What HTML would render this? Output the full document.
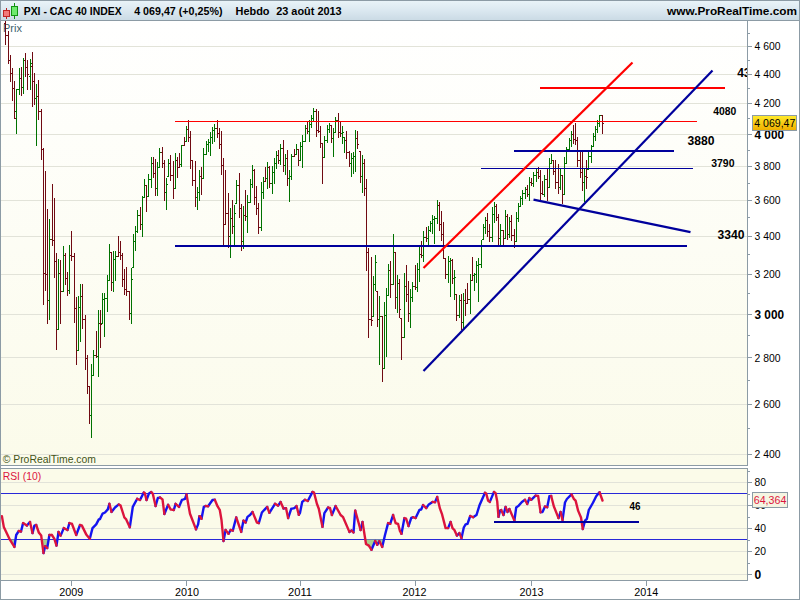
<!DOCTYPE html>
<html><head><meta charset="utf-8"><title>PXI - CAC 40 INDEX</title>
<style>html,body{margin:0;padding:0;background:#fff;overflow:hidden}svg{display:block}text{font-family:"Liberation Sans",sans-serif}</style>
</head><body>
<svg width="800" height="600" viewBox="0 0 800 600">
<defs>
<linearGradient id="hd" x1="0" y1="0" x2="0" y2="1"><stop offset="0" stop-color="#e9f3f8"/><stop offset="0.5" stop-color="#dbe8f0"/><stop offset="1" stop-color="#cbdbe5"/></linearGradient>
<linearGradient id="bg" x1="0" y1="0" x2="0" y2="1"><stop offset="0" stop-color="#ffffff"/><stop offset="1" stop-color="#fbfbea"/></linearGradient>
<linearGradient id="yl" x1="0" y1="0" x2="0" y2="1"><stop offset="0" stop-color="#ffe92a"/><stop offset="1" stop-color="#f0b000"/></linearGradient>
<clipPath id="cm"><rect x="1" y="21" width="746" height="444"/></clipPath>
<clipPath id="cr"><rect x="1" y="469" width="746" height="111"/></clipPath>
</defs>
<rect x="0" y="0" width="800" height="600" fill="#ffffff"/>
<rect x="1" y="1" width="798" height="19" fill="url(#hd)"/>
<rect x="1" y="21" width="746" height="444" fill="url(#bg)"/>
<rect x="1" y="469" width="746" height="111" fill="#fbfbe9"/>
<g shape-rendering="crispEdges">
<rect x="0" y="0" width="800" height="1" fill="#8c9ba5"/><rect x="0" y="599" width="800" height="1" fill="#8c9ba5"/><rect x="0" y="0" width="1" height="600" fill="#8c9ba5"/><rect x="799" y="0" width="1" height="600" fill="#8c9ba5"/>
<rect x="0" y="20" width="800" height="1" fill="#8c9ba5"/>
<rect x="1" y="454" width="746" height="1" fill="#e2e3d9"/>
<rect x="1" y="404" width="746" height="1" fill="#e2e3d9"/>
<rect x="1" y="357" width="746" height="1" fill="#e2e3d9"/>
<rect x="1" y="314" width="746" height="1" fill="#e2e3d9"/>
<rect x="1" y="274" width="746" height="1" fill="#e2e3d9"/>
<rect x="1" y="236" width="746" height="1" fill="#e2e3d9"/>
<rect x="1" y="200" width="746" height="1" fill="#e2e3d9"/>
<rect x="1" y="166" width="746" height="1" fill="#e2e3d9"/>
<rect x="1" y="134" width="746" height="1" fill="#e2e3d9"/>
<rect x="1" y="103" width="746" height="1" fill="#e2e3d9"/>
<rect x="1" y="74" width="746" height="1" fill="#e2e3d9"/>
<rect x="1" y="46" width="746" height="1" fill="#e2e3d9"/>
<rect x="1" y="574" width="746" height="1" fill="#e2e3d9"/>
<rect x="1" y="551" width="746" height="1" fill="#e2e3d9"/>
<rect x="1" y="528" width="746" height="1" fill="#e2e3d9"/>
<rect x="1" y="505" width="746" height="1" fill="#e2e3d9"/>
<rect x="1" y="482" width="746" height="1" fill="#e2e3d9"/>
<rect x="747" y="21" width="1" height="445" fill="#8c9ba5"/>
<rect x="1" y="465" width="747" height="1" fill="#8c9ba5"/>
<rect x="1" y="468" width="747" height="1" fill="#8c9ba5"/>
<rect x="747" y="468" width="1" height="113" fill="#8c9ba5"/>
<rect x="1" y="580" width="747" height="1" fill="#8c9ba5"/>
<rect x="747" y="454" width="5" height="1" fill="#8c9ba5"/>
<rect x="747" y="428" width="3" height="1" fill="#8c9ba5"/>
<rect x="747" y="404" width="5" height="1" fill="#8c9ba5"/>
<rect x="747" y="380" width="3" height="1" fill="#8c9ba5"/>
<rect x="747" y="357" width="5" height="1" fill="#8c9ba5"/>
<rect x="747" y="335" width="3" height="1" fill="#8c9ba5"/>
<rect x="747" y="314" width="5" height="1" fill="#8c9ba5"/>
<rect x="747" y="293" width="3" height="1" fill="#8c9ba5"/>
<rect x="747" y="274" width="5" height="1" fill="#8c9ba5"/>
<rect x="747" y="254" width="3" height="1" fill="#8c9ba5"/>
<rect x="747" y="236" width="5" height="1" fill="#8c9ba5"/>
<rect x="747" y="217" width="3" height="1" fill="#8c9ba5"/>
<rect x="747" y="200" width="5" height="1" fill="#8c9ba5"/>
<rect x="747" y="183" width="3" height="1" fill="#8c9ba5"/>
<rect x="747" y="166" width="5" height="1" fill="#8c9ba5"/>
<rect x="747" y="150" width="3" height="1" fill="#8c9ba5"/>
<rect x="747" y="134" width="5" height="1" fill="#8c9ba5"/>
<rect x="747" y="118" width="3" height="1" fill="#8c9ba5"/>
<rect x="747" y="103" width="5" height="1" fill="#8c9ba5"/>
<rect x="747" y="88" width="3" height="1" fill="#8c9ba5"/>
<rect x="747" y="74" width="5" height="1" fill="#8c9ba5"/>
<rect x="747" y="60" width="3" height="1" fill="#8c9ba5"/>
<rect x="747" y="46" width="5" height="1" fill="#8c9ba5"/>
<rect x="747" y="33" width="3" height="1" fill="#8c9ba5"/>
<rect x="747" y="574" width="5" height="1" fill="#8c9ba5"/>
<rect x="747" y="563" width="3" height="1" fill="#8c9ba5"/>
<rect x="747" y="551" width="5" height="1" fill="#8c9ba5"/>
<rect x="747" y="540" width="3" height="1" fill="#8c9ba5"/>
<rect x="747" y="528" width="5" height="1" fill="#8c9ba5"/>
<rect x="747" y="517" width="3" height="1" fill="#8c9ba5"/>
<rect x="747" y="505" width="5" height="1" fill="#8c9ba5"/>
<rect x="747" y="494" width="3" height="1" fill="#8c9ba5"/>
<rect x="747" y="482" width="5" height="1" fill="#8c9ba5"/>
<rect x="747" y="471" width="3" height="1" fill="#8c9ba5"/>
<rect x="71" y="581" width="1" height="5" fill="#8c9ba5"/>
<rect x="186" y="581" width="1" height="5" fill="#8c9ba5"/>
<rect x="300" y="581" width="1" height="5" fill="#8c9ba5"/>
<rect x="415" y="581" width="1" height="5" fill="#8c9ba5"/>
<rect x="531" y="581" width="1" height="5" fill="#8c9ba5"/>
<rect x="646" y="581" width="1" height="5" fill="#8c9ba5"/>
</g>
<g shape-rendering="crispEdges">
<rect x="1" y="493" width="746" height="1" fill="#2828d8"/>
<rect x="1" y="539" width="746" height="1" fill="#2828d8"/>
</g>
<text x="3" y="31.5" font-size="11" fill="#3c626c" text-anchor="start">Prix</text>
<g shape-rendering="crispEdges" clip-path="url(#cm)">
<rect x="5" y="21" width="1" height="24" fill="#700a12"/>
<rect x="4" y="23" width="1" height="1" fill="#700a12"/>
<rect x="6" y="35" width="1" height="1" fill="#700a12"/>
<rect x="8" y="31" width="1" height="33" fill="#700a12"/>
<rect x="7" y="35" width="1" height="1" fill="#700a12"/>
<rect x="9" y="60" width="1" height="1" fill="#700a12"/>
<rect x="10" y="55" width="1" height="27" fill="#700a12"/>
<rect x="9" y="60" width="1" height="1" fill="#700a12"/>
<rect x="11" y="73" width="1" height="1" fill="#700a12"/>
<rect x="12" y="68" width="1" height="33" fill="#700a12"/>
<rect x="11" y="73" width="1" height="1" fill="#700a12"/>
<rect x="13" y="88" width="1" height="1" fill="#700a12"/>
<rect x="14" y="81" width="1" height="38" fill="#700a12"/>
<rect x="13" y="88" width="1" height="1" fill="#700a12"/>
<rect x="15" y="118" width="1" height="1" fill="#700a12"/>
<rect x="16" y="89" width="1" height="45" fill="#007200"/>
<rect x="15" y="111" width="1" height="1" fill="#007200"/>
<rect x="17" y="89" width="1" height="1" fill="#007200"/>
<rect x="19" y="68" width="1" height="27" fill="#007200"/>
<rect x="18" y="89" width="1" height="1" fill="#007200"/>
<rect x="20" y="78" width="1" height="1" fill="#007200"/>
<rect x="21" y="67" width="1" height="29" fill="#700a12"/>
<rect x="20" y="78" width="1" height="1" fill="#700a12"/>
<rect x="22" y="87" width="1" height="1" fill="#700a12"/>
<rect x="23" y="58" width="1" height="36" fill="#007200"/>
<rect x="22" y="87" width="1" height="1" fill="#007200"/>
<rect x="24" y="60" width="1" height="1" fill="#007200"/>
<rect x="25" y="53" width="1" height="24" fill="#700a12"/>
<rect x="24" y="60" width="1" height="1" fill="#700a12"/>
<rect x="26" y="67" width="1" height="1" fill="#700a12"/>
<rect x="27" y="60" width="1" height="30" fill="#700a12"/>
<rect x="26" y="67" width="1" height="1" fill="#700a12"/>
<rect x="28" y="74" width="1" height="1" fill="#700a12"/>
<rect x="30" y="59" width="1" height="31" fill="#007200"/>
<rect x="29" y="76" width="1" height="1" fill="#007200"/>
<rect x="31" y="63" width="1" height="1" fill="#007200"/>
<rect x="32" y="52" width="1" height="55" fill="#700a12"/>
<rect x="31" y="66" width="1" height="1" fill="#700a12"/>
<rect x="33" y="81" width="1" height="1" fill="#700a12"/>
<rect x="34" y="73" width="1" height="32" fill="#700a12"/>
<rect x="33" y="81" width="1" height="1" fill="#700a12"/>
<rect x="35" y="98" width="1" height="1" fill="#700a12"/>
<rect x="36" y="84" width="1" height="62" fill="#007200"/>
<rect x="35" y="98" width="1" height="1" fill="#007200"/>
<rect x="37" y="96" width="1" height="1" fill="#007200"/>
<rect x="38" y="80" width="1" height="40" fill="#700a12"/>
<rect x="37" y="96" width="1" height="1" fill="#700a12"/>
<rect x="39" y="111" width="1" height="1" fill="#700a12"/>
<rect x="41" y="109" width="1" height="51" fill="#700a12"/>
<rect x="40" y="111" width="1" height="1" fill="#700a12"/>
<rect x="42" y="149" width="1" height="1" fill="#700a12"/>
<rect x="43" y="148" width="1" height="157" fill="#700a12"/>
<rect x="42" y="149" width="1" height="1" fill="#700a12"/>
<rect x="44" y="273" width="1" height="1" fill="#700a12"/>
<rect x="45" y="171" width="1" height="120" fill="#700a12"/>
<rect x="44" y="273" width="1" height="1" fill="#700a12"/>
<rect x="46" y="274" width="1" height="1" fill="#700a12"/>
<rect x="47" y="209" width="1" height="115" fill="#700a12"/>
<rect x="46" y="274" width="1" height="1" fill="#700a12"/>
<rect x="48" y="300" width="1" height="1" fill="#700a12"/>
<rect x="49" y="219" width="1" height="101" fill="#007200"/>
<rect x="48" y="300" width="1" height="1" fill="#007200"/>
<rect x="50" y="239" width="1" height="1" fill="#007200"/>
<rect x="52" y="184" width="1" height="62" fill="#700a12"/>
<rect x="51" y="239" width="1" height="1" fill="#700a12"/>
<rect x="53" y="240" width="1" height="1" fill="#700a12"/>
<rect x="54" y="198" width="1" height="80" fill="#700a12"/>
<rect x="53" y="240" width="1" height="1" fill="#700a12"/>
<rect x="55" y="261" width="1" height="1" fill="#700a12"/>
<rect x="56" y="253" width="1" height="97" fill="#700a12"/>
<rect x="55" y="261" width="1" height="1" fill="#700a12"/>
<rect x="57" y="329" width="1" height="1" fill="#700a12"/>
<rect x="58" y="259" width="1" height="71" fill="#007200"/>
<rect x="57" y="329" width="1" height="1" fill="#007200"/>
<rect x="59" y="273" width="1" height="1" fill="#007200"/>
<rect x="60" y="260" width="1" height="64" fill="#700a12"/>
<rect x="59" y="273" width="1" height="1" fill="#700a12"/>
<rect x="61" y="291" width="1" height="1" fill="#700a12"/>
<rect x="63" y="246" width="1" height="46" fill="#007200"/>
<rect x="62" y="291" width="1" height="1" fill="#007200"/>
<rect x="64" y="255" width="1" height="1" fill="#007200"/>
<rect x="65" y="253" width="1" height="32" fill="#700a12"/>
<rect x="64" y="255" width="1" height="1" fill="#700a12"/>
<rect x="66" y="278" width="1" height="1" fill="#700a12"/>
<rect x="67" y="272" width="1" height="24" fill="#700a12"/>
<rect x="66" y="278" width="1" height="1" fill="#700a12"/>
<rect x="68" y="290" width="1" height="1" fill="#700a12"/>
<rect x="69" y="245" width="1" height="49" fill="#007200"/>
<rect x="68" y="290" width="1" height="1" fill="#007200"/>
<rect x="70" y="255" width="1" height="1" fill="#007200"/>
<rect x="71" y="231" width="1" height="30" fill="#700a12"/>
<rect x="70" y="255" width="1" height="1" fill="#700a12"/>
<rect x="72" y="256" width="1" height="1" fill="#700a12"/>
<rect x="74" y="253" width="1" height="70" fill="#700a12"/>
<rect x="73" y="256" width="1" height="1" fill="#700a12"/>
<rect x="75" y="308" width="1" height="1" fill="#700a12"/>
<rect x="76" y="297" width="1" height="68" fill="#700a12"/>
<rect x="75" y="308" width="1" height="1" fill="#700a12"/>
<rect x="77" y="350" width="1" height="1" fill="#700a12"/>
<rect x="78" y="296" width="1" height="55" fill="#007200"/>
<rect x="77" y="350" width="1" height="1" fill="#007200"/>
<rect x="79" y="307" width="1" height="1" fill="#007200"/>
<rect x="80" y="284" width="1" height="58" fill="#007200"/>
<rect x="79" y="307" width="1" height="1" fill="#007200"/>
<rect x="81" y="296" width="1" height="1" fill="#007200"/>
<rect x="82" y="284" width="1" height="45" fill="#700a12"/>
<rect x="81" y="296" width="1" height="1" fill="#700a12"/>
<rect x="83" y="319" width="1" height="1" fill="#700a12"/>
<rect x="85" y="315" width="1" height="55" fill="#700a12"/>
<rect x="84" y="319" width="1" height="1" fill="#700a12"/>
<rect x="86" y="358" width="1" height="1" fill="#700a12"/>
<rect x="87" y="355" width="1" height="39" fill="#700a12"/>
<rect x="86" y="358" width="1" height="1" fill="#700a12"/>
<rect x="88" y="386" width="1" height="1" fill="#700a12"/>
<rect x="89" y="386" width="1" height="38" fill="#700a12"/>
<rect x="88" y="386" width="1" height="1" fill="#700a12"/>
<rect x="90" y="415" width="1" height="1" fill="#700a12"/>
<rect x="91" y="364" width="1" height="74" fill="#007200"/>
<rect x="90" y="415" width="1" height="1" fill="#007200"/>
<rect x="92" y="375" width="1" height="1" fill="#007200"/>
<rect x="93" y="350" width="1" height="26" fill="#007200"/>
<rect x="92" y="375" width="1" height="1" fill="#007200"/>
<rect x="94" y="355" width="1" height="1" fill="#007200"/>
<rect x="96" y="331" width="1" height="27" fill="#700a12"/>
<rect x="95" y="355" width="1" height="1" fill="#700a12"/>
<rect x="97" y="356" width="1" height="1" fill="#700a12"/>
<rect x="98" y="310" width="1" height="67" fill="#007200"/>
<rect x="97" y="356" width="1" height="1" fill="#007200"/>
<rect x="99" y="323" width="1" height="1" fill="#007200"/>
<rect x="100" y="310" width="1" height="38" fill="#700a12"/>
<rect x="99" y="323" width="1" height="1" fill="#700a12"/>
<rect x="101" y="324" width="1" height="1" fill="#700a12"/>
<rect x="102" y="293" width="1" height="31" fill="#007200"/>
<rect x="101" y="323" width="1" height="1" fill="#007200"/>
<rect x="103" y="299" width="1" height="1" fill="#007200"/>
<rect x="104" y="293" width="1" height="44" fill="#007200"/>
<rect x="103" y="299" width="1" height="1" fill="#007200"/>
<rect x="105" y="298" width="1" height="1" fill="#007200"/>
<rect x="107" y="275" width="1" height="37" fill="#007200"/>
<rect x="106" y="298" width="1" height="1" fill="#007200"/>
<rect x="108" y="280" width="1" height="1" fill="#007200"/>
<rect x="109" y="244" width="1" height="37" fill="#007200"/>
<rect x="108" y="280" width="1" height="1" fill="#007200"/>
<rect x="110" y="252" width="1" height="1" fill="#007200"/>
<rect x="111" y="252" width="1" height="39" fill="#700a12"/>
<rect x="110" y="252" width="1" height="1" fill="#700a12"/>
<rect x="112" y="282" width="1" height="1" fill="#700a12"/>
<rect x="113" y="251" width="1" height="41" fill="#007200"/>
<rect x="112" y="282" width="1" height="1" fill="#007200"/>
<rect x="114" y="259" width="1" height="1" fill="#007200"/>
<rect x="115" y="251" width="1" height="30" fill="#007200"/>
<rect x="114" y="259" width="1" height="1" fill="#007200"/>
<rect x="116" y="256" width="1" height="1" fill="#007200"/>
<rect x="118" y="236" width="1" height="21" fill="#700a12"/>
<rect x="117" y="256" width="1" height="1" fill="#700a12"/>
<rect x="119" y="252" width="1" height="1" fill="#700a12"/>
<rect x="120" y="241" width="1" height="19" fill="#700a12"/>
<rect x="119" y="252" width="1" height="1" fill="#700a12"/>
<rect x="121" y="255" width="1" height="1" fill="#700a12"/>
<rect x="122" y="253" width="1" height="34" fill="#700a12"/>
<rect x="121" y="255" width="1" height="1" fill="#700a12"/>
<rect x="123" y="279" width="1" height="1" fill="#700a12"/>
<rect x="124" y="269" width="1" height="26" fill="#700a12"/>
<rect x="123" y="279" width="1" height="1" fill="#700a12"/>
<rect x="125" y="289" width="1" height="1" fill="#700a12"/>
<rect x="126" y="267" width="1" height="29" fill="#700a12"/>
<rect x="125" y="289" width="1" height="1" fill="#700a12"/>
<rect x="127" y="291" width="1" height="1" fill="#700a12"/>
<rect x="129" y="291" width="1" height="29" fill="#700a12"/>
<rect x="128" y="291" width="1" height="1" fill="#700a12"/>
<rect x="130" y="313" width="1" height="1" fill="#700a12"/>
<rect x="131" y="268" width="1" height="56" fill="#007200"/>
<rect x="130" y="313" width="1" height="1" fill="#007200"/>
<rect x="132" y="279" width="1" height="1" fill="#007200"/>
<rect x="133" y="234" width="1" height="34" fill="#007200"/>
<rect x="132" y="267" width="1" height="1" fill="#007200"/>
<rect x="134" y="241" width="1" height="1" fill="#007200"/>
<rect x="135" y="226" width="1" height="25" fill="#007200"/>
<rect x="134" y="241" width="1" height="1" fill="#007200"/>
<rect x="136" y="231" width="1" height="1" fill="#007200"/>
<rect x="137" y="210" width="1" height="23" fill="#007200"/>
<rect x="136" y="231" width="1" height="1" fill="#007200"/>
<rect x="138" y="215" width="1" height="1" fill="#007200"/>
<rect x="140" y="207" width="1" height="23" fill="#700a12"/>
<rect x="139" y="215" width="1" height="1" fill="#700a12"/>
<rect x="141" y="224" width="1" height="1" fill="#700a12"/>
<rect x="142" y="196" width="1" height="41" fill="#007200"/>
<rect x="141" y="224" width="1" height="1" fill="#007200"/>
<rect x="143" y="197" width="1" height="1" fill="#007200"/>
<rect x="144" y="179" width="1" height="19" fill="#007200"/>
<rect x="143" y="197" width="1" height="1" fill="#007200"/>
<rect x="145" y="185" width="1" height="1" fill="#007200"/>
<rect x="146" y="185" width="1" height="27" fill="#700a12"/>
<rect x="145" y="185" width="1" height="1" fill="#700a12"/>
<rect x="147" y="196" width="1" height="1" fill="#700a12"/>
<rect x="148" y="174" width="1" height="23" fill="#007200"/>
<rect x="147" y="196" width="1" height="1" fill="#007200"/>
<rect x="149" y="179" width="1" height="1" fill="#007200"/>
<rect x="151" y="157" width="1" height="31" fill="#007200"/>
<rect x="150" y="179" width="1" height="1" fill="#007200"/>
<rect x="152" y="163" width="1" height="1" fill="#007200"/>
<rect x="153" y="157" width="1" height="21" fill="#700a12"/>
<rect x="152" y="163" width="1" height="1" fill="#700a12"/>
<rect x="154" y="173" width="1" height="1" fill="#700a12"/>
<rect x="155" y="159" width="1" height="37" fill="#700a12"/>
<rect x="154" y="173" width="1" height="1" fill="#700a12"/>
<rect x="156" y="188" width="1" height="1" fill="#700a12"/>
<rect x="157" y="162" width="1" height="34" fill="#007200"/>
<rect x="156" y="188" width="1" height="1" fill="#007200"/>
<rect x="158" y="167" width="1" height="1" fill="#007200"/>
<rect x="159" y="148" width="1" height="20" fill="#007200"/>
<rect x="158" y="167" width="1" height="1" fill="#007200"/>
<rect x="160" y="152" width="1" height="1" fill="#007200"/>
<rect x="162" y="147" width="1" height="21" fill="#700a12"/>
<rect x="161" y="152" width="1" height="1" fill="#700a12"/>
<rect x="163" y="163" width="1" height="1" fill="#700a12"/>
<rect x="164" y="160" width="1" height="41" fill="#700a12"/>
<rect x="163" y="163" width="1" height="1" fill="#700a12"/>
<rect x="165" y="192" width="1" height="1" fill="#700a12"/>
<rect x="166" y="178" width="1" height="32" fill="#007200"/>
<rect x="165" y="192" width="1" height="1" fill="#007200"/>
<rect x="167" y="184" width="1" height="1" fill="#007200"/>
<rect x="168" y="159" width="1" height="18" fill="#007200"/>
<rect x="167" y="176" width="1" height="1" fill="#007200"/>
<rect x="169" y="163" width="1" height="1" fill="#007200"/>
<rect x="170" y="155" width="1" height="26" fill="#700a12"/>
<rect x="169" y="163" width="1" height="1" fill="#700a12"/>
<rect x="171" y="175" width="1" height="1" fill="#700a12"/>
<rect x="173" y="161" width="1" height="38" fill="#700a12"/>
<rect x="172" y="175" width="1" height="1" fill="#700a12"/>
<rect x="174" y="188" width="1" height="1" fill="#700a12"/>
<rect x="175" y="153" width="1" height="36" fill="#007200"/>
<rect x="174" y="188" width="1" height="1" fill="#007200"/>
<rect x="176" y="160" width="1" height="1" fill="#007200"/>
<rect x="177" y="157" width="1" height="21" fill="#700a12"/>
<rect x="176" y="160" width="1" height="1" fill="#700a12"/>
<rect x="178" y="167" width="1" height="1" fill="#700a12"/>
<rect x="179" y="153" width="1" height="15" fill="#700a12"/>
<rect x="178" y="167" width="1" height="1" fill="#700a12"/>
<rect x="180" y="164" width="1" height="1" fill="#700a12"/>
<rect x="181" y="145" width="1" height="22" fill="#007200"/>
<rect x="180" y="164" width="1" height="1" fill="#007200"/>
<rect x="182" y="145" width="1" height="1" fill="#007200"/>
<rect x="184" y="137" width="1" height="9" fill="#700a12"/>
<rect x="183" y="145" width="1" height="1" fill="#700a12"/>
<rect x="185" y="141" width="1" height="1" fill="#700a12"/>
<rect x="186" y="126" width="1" height="16" fill="#007200"/>
<rect x="185" y="141" width="1" height="1" fill="#007200"/>
<rect x="187" y="129" width="1" height="1" fill="#007200"/>
<rect x="188" y="120" width="1" height="22" fill="#700a12"/>
<rect x="187" y="129" width="1" height="1" fill="#700a12"/>
<rect x="189" y="137" width="1" height="1" fill="#700a12"/>
<rect x="190" y="131" width="1" height="38" fill="#700a12"/>
<rect x="189" y="137" width="1" height="1" fill="#700a12"/>
<rect x="191" y="160" width="1" height="1" fill="#700a12"/>
<rect x="192" y="160" width="1" height="26" fill="#700a12"/>
<rect x="191" y="160" width="1" height="1" fill="#700a12"/>
<rect x="193" y="180" width="1" height="1" fill="#700a12"/>
<rect x="195" y="161" width="1" height="46" fill="#700a12"/>
<rect x="194" y="180" width="1" height="1" fill="#700a12"/>
<rect x="196" y="197" width="1" height="1" fill="#700a12"/>
<rect x="197" y="187" width="1" height="23" fill="#007200"/>
<rect x="196" y="197" width="1" height="1" fill="#007200"/>
<rect x="198" y="192" width="1" height="1" fill="#007200"/>
<rect x="199" y="170" width="1" height="31" fill="#007200"/>
<rect x="198" y="192" width="1" height="1" fill="#007200"/>
<rect x="200" y="176" width="1" height="1" fill="#007200"/>
<rect x="201" y="167" width="1" height="28" fill="#700a12"/>
<rect x="200" y="176" width="1" height="1" fill="#700a12"/>
<rect x="202" y="178" width="1" height="1" fill="#700a12"/>
<rect x="203" y="148" width="1" height="31" fill="#007200"/>
<rect x="202" y="178" width="1" height="1" fill="#007200"/>
<rect x="204" y="154" width="1" height="1" fill="#007200"/>
<rect x="206" y="141" width="1" height="14" fill="#007200"/>
<rect x="205" y="154" width="1" height="1" fill="#007200"/>
<rect x="207" y="144" width="1" height="1" fill="#007200"/>
<rect x="208" y="139" width="1" height="13" fill="#007200"/>
<rect x="207" y="144" width="1" height="1" fill="#007200"/>
<rect x="209" y="142" width="1" height="1" fill="#007200"/>
<rect x="210" y="132" width="1" height="24" fill="#007200"/>
<rect x="209" y="142" width="1" height="1" fill="#007200"/>
<rect x="211" y="137" width="1" height="1" fill="#007200"/>
<rect x="212" y="127" width="1" height="17" fill="#007200"/>
<rect x="211" y="137" width="1" height="1" fill="#007200"/>
<rect x="213" y="130" width="1" height="1" fill="#007200"/>
<rect x="214" y="124" width="1" height="18" fill="#007200"/>
<rect x="213" y="130" width="1" height="1" fill="#007200"/>
<rect x="215" y="128" width="1" height="1" fill="#007200"/>
<rect x="217" y="120" width="1" height="18" fill="#700a12"/>
<rect x="216" y="128" width="1" height="1" fill="#700a12"/>
<rect x="218" y="133" width="1" height="1" fill="#700a12"/>
<rect x="219" y="128" width="1" height="21" fill="#700a12"/>
<rect x="218" y="133" width="1" height="1" fill="#700a12"/>
<rect x="220" y="144" width="1" height="1" fill="#700a12"/>
<rect x="221" y="131" width="1" height="44" fill="#700a12"/>
<rect x="220" y="144" width="1" height="1" fill="#700a12"/>
<rect x="222" y="165" width="1" height="1" fill="#700a12"/>
<rect x="223" y="158" width="1" height="87" fill="#700a12"/>
<rect x="222" y="165" width="1" height="1" fill="#700a12"/>
<rect x="224" y="224" width="1" height="1" fill="#700a12"/>
<rect x="225" y="170" width="1" height="55" fill="#700a12"/>
<rect x="224" y="224" width="1" height="1" fill="#700a12"/>
<rect x="226" y="213" width="1" height="1" fill="#700a12"/>
<rect x="228" y="193" width="1" height="55" fill="#700a12"/>
<rect x="227" y="213" width="1" height="1" fill="#700a12"/>
<rect x="229" y="236" width="1" height="1" fill="#700a12"/>
<rect x="230" y="208" width="1" height="50" fill="#007200"/>
<rect x="229" y="236" width="1" height="1" fill="#007200"/>
<rect x="231" y="218" width="1" height="1" fill="#007200"/>
<rect x="232" y="200" width="1" height="34" fill="#700a12"/>
<rect x="231" y="218" width="1" height="1" fill="#700a12"/>
<rect x="233" y="226" width="1" height="1" fill="#700a12"/>
<rect x="234" y="205" width="1" height="40" fill="#007200"/>
<rect x="233" y="226" width="1" height="1" fill="#007200"/>
<rect x="235" y="213" width="1" height="1" fill="#007200"/>
<rect x="236" y="180" width="1" height="24" fill="#007200"/>
<rect x="235" y="203" width="1" height="1" fill="#007200"/>
<rect x="237" y="185" width="1" height="1" fill="#007200"/>
<rect x="239" y="173" width="1" height="45" fill="#700a12"/>
<rect x="238" y="185" width="1" height="1" fill="#700a12"/>
<rect x="240" y="208" width="1" height="1" fill="#700a12"/>
<rect x="241" y="204" width="1" height="47" fill="#700a12"/>
<rect x="240" y="208" width="1" height="1" fill="#700a12"/>
<rect x="242" y="241" width="1" height="1" fill="#700a12"/>
<rect x="243" y="206" width="1" height="43" fill="#007200"/>
<rect x="242" y="241" width="1" height="1" fill="#007200"/>
<rect x="244" y="215" width="1" height="1" fill="#007200"/>
<rect x="245" y="190" width="1" height="31" fill="#700a12"/>
<rect x="244" y="215" width="1" height="1" fill="#700a12"/>
<rect x="246" y="216" width="1" height="1" fill="#700a12"/>
<rect x="247" y="195" width="1" height="38" fill="#007200"/>
<rect x="246" y="216" width="1" height="1" fill="#007200"/>
<rect x="248" y="202" width="1" height="1" fill="#007200"/>
<rect x="250" y="179" width="1" height="24" fill="#007200"/>
<rect x="249" y="202" width="1" height="1" fill="#007200"/>
<rect x="251" y="184" width="1" height="1" fill="#007200"/>
<rect x="252" y="165" width="1" height="23" fill="#007200"/>
<rect x="251" y="184" width="1" height="1" fill="#007200"/>
<rect x="253" y="170" width="1" height="1" fill="#007200"/>
<rect x="254" y="169" width="1" height="36" fill="#700a12"/>
<rect x="253" y="170" width="1" height="1" fill="#700a12"/>
<rect x="255" y="197" width="1" height="1" fill="#700a12"/>
<rect x="256" y="186" width="1" height="29" fill="#700a12"/>
<rect x="255" y="197" width="1" height="1" fill="#700a12"/>
<rect x="257" y="208" width="1" height="1" fill="#700a12"/>
<rect x="258" y="203" width="1" height="31" fill="#700a12"/>
<rect x="257" y="208" width="1" height="1" fill="#700a12"/>
<rect x="259" y="227" width="1" height="1" fill="#700a12"/>
<rect x="261" y="182" width="1" height="49" fill="#007200"/>
<rect x="260" y="227" width="1" height="1" fill="#007200"/>
<rect x="262" y="192" width="1" height="1" fill="#007200"/>
<rect x="263" y="177" width="1" height="22" fill="#007200"/>
<rect x="262" y="192" width="1" height="1" fill="#007200"/>
<rect x="264" y="181" width="1" height="1" fill="#007200"/>
<rect x="265" y="167" width="1" height="15" fill="#700a12"/>
<rect x="264" y="181" width="1" height="1" fill="#700a12"/>
<rect x="266" y="178" width="1" height="1" fill="#700a12"/>
<rect x="267" y="162" width="1" height="27" fill="#007200"/>
<rect x="266" y="178" width="1" height="1" fill="#007200"/>
<rect x="268" y="167" width="1" height="1" fill="#007200"/>
<rect x="269" y="166" width="1" height="22" fill="#700a12"/>
<rect x="268" y="167" width="1" height="1" fill="#700a12"/>
<rect x="270" y="183" width="1" height="1" fill="#700a12"/>
<rect x="272" y="166" width="1" height="28" fill="#007200"/>
<rect x="271" y="183" width="1" height="1" fill="#007200"/>
<rect x="273" y="172" width="1" height="1" fill="#007200"/>
<rect x="274" y="158" width="1" height="26" fill="#007200"/>
<rect x="273" y="172" width="1" height="1" fill="#007200"/>
<rect x="275" y="163" width="1" height="1" fill="#007200"/>
<rect x="276" y="151" width="1" height="18" fill="#007200"/>
<rect x="275" y="163" width="1" height="1" fill="#007200"/>
<rect x="277" y="155" width="1" height="1" fill="#007200"/>
<rect x="278" y="150" width="1" height="14" fill="#700a12"/>
<rect x="277" y="155" width="1" height="1" fill="#700a12"/>
<rect x="279" y="160" width="1" height="1" fill="#700a12"/>
<rect x="280" y="144" width="1" height="21" fill="#007200"/>
<rect x="279" y="160" width="1" height="1" fill="#007200"/>
<rect x="281" y="148" width="1" height="1" fill="#007200"/>
<rect x="283" y="140" width="1" height="32" fill="#700a12"/>
<rect x="282" y="148" width="1" height="1" fill="#700a12"/>
<rect x="284" y="165" width="1" height="1" fill="#700a12"/>
<rect x="285" y="154" width="1" height="21" fill="#007200"/>
<rect x="284" y="165" width="1" height="1" fill="#007200"/>
<rect x="286" y="158" width="1" height="1" fill="#007200"/>
<rect x="287" y="150" width="1" height="36" fill="#700a12"/>
<rect x="286" y="158" width="1" height="1" fill="#700a12"/>
<rect x="288" y="178" width="1" height="1" fill="#700a12"/>
<rect x="289" y="170" width="1" height="32" fill="#007200"/>
<rect x="288" y="178" width="1" height="1" fill="#007200"/>
<rect x="290" y="176" width="1" height="1" fill="#007200"/>
<rect x="291" y="154" width="1" height="26" fill="#007200"/>
<rect x="290" y="176" width="1" height="1" fill="#007200"/>
<rect x="292" y="156" width="1" height="1" fill="#007200"/>
<rect x="294" y="149" width="1" height="8" fill="#700a12"/>
<rect x="293" y="156" width="1" height="1" fill="#700a12"/>
<rect x="295" y="154" width="1" height="1" fill="#700a12"/>
<rect x="296" y="144" width="1" height="11" fill="#007200"/>
<rect x="295" y="154" width="1" height="1" fill="#007200"/>
<rect x="297" y="149" width="1" height="1" fill="#007200"/>
<rect x="298" y="149" width="1" height="17" fill="#700a12"/>
<rect x="297" y="149" width="1" height="1" fill="#700a12"/>
<rect x="299" y="160" width="1" height="1" fill="#700a12"/>
<rect x="300" y="142" width="1" height="19" fill="#007200"/>
<rect x="299" y="160" width="1" height="1" fill="#007200"/>
<rect x="301" y="146" width="1" height="1" fill="#007200"/>
<rect x="302" y="135" width="1" height="33" fill="#007200"/>
<rect x="301" y="146" width="1" height="1" fill="#007200"/>
<rect x="303" y="141" width="1" height="1" fill="#007200"/>
<rect x="305" y="125" width="1" height="17" fill="#007200"/>
<rect x="304" y="141" width="1" height="1" fill="#007200"/>
<rect x="306" y="128" width="1" height="1" fill="#007200"/>
<rect x="307" y="122" width="1" height="12" fill="#700a12"/>
<rect x="306" y="128" width="1" height="1" fill="#700a12"/>
<rect x="308" y="131" width="1" height="1" fill="#700a12"/>
<rect x="309" y="120" width="1" height="22" fill="#007200"/>
<rect x="308" y="131" width="1" height="1" fill="#007200"/>
<rect x="310" y="124" width="1" height="1" fill="#007200"/>
<rect x="311" y="115" width="1" height="13" fill="#007200"/>
<rect x="310" y="124" width="1" height="1" fill="#007200"/>
<rect x="312" y="118" width="1" height="1" fill="#007200"/>
<rect x="313" y="108" width="1" height="13" fill="#007200"/>
<rect x="312" y="118" width="1" height="1" fill="#007200"/>
<rect x="314" y="111" width="1" height="1" fill="#007200"/>
<rect x="316" y="109" width="1" height="28" fill="#700a12"/>
<rect x="315" y="111" width="1" height="1" fill="#700a12"/>
<rect x="317" y="130" width="1" height="1" fill="#700a12"/>
<rect x="318" y="111" width="1" height="22" fill="#700a12"/>
<rect x="317" y="130" width="1" height="1" fill="#700a12"/>
<rect x="319" y="131" width="1" height="1" fill="#700a12"/>
<rect x="320" y="126" width="1" height="22" fill="#700a12"/>
<rect x="319" y="131" width="1" height="1" fill="#700a12"/>
<rect x="321" y="143" width="1" height="1" fill="#700a12"/>
<rect x="322" y="143" width="1" height="41" fill="#700a12"/>
<rect x="321" y="143" width="1" height="1" fill="#700a12"/>
<rect x="323" y="157" width="1" height="1" fill="#700a12"/>
<rect x="324" y="136" width="1" height="22" fill="#007200"/>
<rect x="323" y="157" width="1" height="1" fill="#007200"/>
<rect x="325" y="140" width="1" height="1" fill="#007200"/>
<rect x="327" y="125" width="1" height="18" fill="#007200"/>
<rect x="326" y="140" width="1" height="1" fill="#007200"/>
<rect x="328" y="129" width="1" height="1" fill="#007200"/>
<rect x="329" y="123" width="1" height="10" fill="#007200"/>
<rect x="328" y="129" width="1" height="1" fill="#007200"/>
<rect x="330" y="125" width="1" height="1" fill="#007200"/>
<rect x="331" y="125" width="1" height="18" fill="#700a12"/>
<rect x="330" y="125" width="1" height="1" fill="#700a12"/>
<rect x="332" y="138" width="1" height="1" fill="#700a12"/>
<rect x="333" y="128" width="1" height="29" fill="#007200"/>
<rect x="332" y="138" width="1" height="1" fill="#007200"/>
<rect x="334" y="132" width="1" height="1" fill="#007200"/>
<rect x="335" y="117" width="1" height="16" fill="#007200"/>
<rect x="334" y="132" width="1" height="1" fill="#007200"/>
<rect x="336" y="120" width="1" height="1" fill="#007200"/>
<rect x="338" y="113" width="1" height="25" fill="#700a12"/>
<rect x="337" y="120" width="1" height="1" fill="#700a12"/>
<rect x="339" y="132" width="1" height="1" fill="#700a12"/>
<rect x="340" y="122" width="1" height="15" fill="#700a12"/>
<rect x="339" y="132" width="1" height="1" fill="#700a12"/>
<rect x="341" y="133" width="1" height="1" fill="#700a12"/>
<rect x="342" y="126" width="1" height="18" fill="#007200"/>
<rect x="341" y="133" width="1" height="1" fill="#007200"/>
<rect x="343" y="132" width="1" height="1" fill="#007200"/>
<rect x="344" y="137" width="1" height="16" fill="#007200"/>
<rect x="343" y="137" width="1" height="1" fill="#007200"/>
<rect x="345" y="140" width="1" height="1" fill="#007200"/>
<rect x="346" y="131" width="1" height="28" fill="#700a12"/>
<rect x="345" y="140" width="1" height="1" fill="#700a12"/>
<rect x="347" y="152" width="1" height="1" fill="#700a12"/>
<rect x="349" y="151" width="1" height="16" fill="#700a12"/>
<rect x="348" y="152" width="1" height="1" fill="#700a12"/>
<rect x="350" y="163" width="1" height="1" fill="#700a12"/>
<rect x="351" y="153" width="1" height="24" fill="#007200"/>
<rect x="350" y="163" width="1" height="1" fill="#007200"/>
<rect x="352" y="158" width="1" height="1" fill="#007200"/>
<rect x="353" y="152" width="1" height="22" fill="#007200"/>
<rect x="352" y="158" width="1" height="1" fill="#007200"/>
<rect x="354" y="156" width="1" height="1" fill="#007200"/>
<rect x="355" y="130" width="1" height="42" fill="#007200"/>
<rect x="354" y="156" width="1" height="1" fill="#007200"/>
<rect x="356" y="138" width="1" height="1" fill="#007200"/>
<rect x="357" y="131" width="1" height="18" fill="#700a12"/>
<rect x="356" y="138" width="1" height="1" fill="#700a12"/>
<rect x="358" y="144" width="1" height="1" fill="#700a12"/>
<rect x="360" y="151" width="1" height="32" fill="#700a12"/>
<rect x="359" y="151" width="1" height="1" fill="#700a12"/>
<rect x="361" y="176" width="1" height="1" fill="#700a12"/>
<rect x="362" y="155" width="1" height="38" fill="#007200"/>
<rect x="361" y="176" width="1" height="1" fill="#007200"/>
<rect x="363" y="163" width="1" height="1" fill="#007200"/>
<rect x="364" y="159" width="1" height="37" fill="#700a12"/>
<rect x="363" y="163" width="1" height="1" fill="#700a12"/>
<rect x="365" y="188" width="1" height="1" fill="#700a12"/>
<rect x="366" y="179" width="1" height="92" fill="#700a12"/>
<rect x="365" y="188" width="1" height="1" fill="#700a12"/>
<rect x="367" y="252" width="1" height="1" fill="#700a12"/>
<rect x="368" y="248" width="1" height="90" fill="#700a12"/>
<rect x="367" y="252" width="1" height="1" fill="#700a12"/>
<rect x="369" y="319" width="1" height="1" fill="#700a12"/>
<rect x="371" y="257" width="1" height="69" fill="#700a12"/>
<rect x="370" y="319" width="1" height="1" fill="#700a12"/>
<rect x="372" y="320" width="1" height="1" fill="#700a12"/>
<rect x="373" y="276" width="1" height="41" fill="#007200"/>
<rect x="372" y="316" width="1" height="1" fill="#007200"/>
<rect x="374" y="284" width="1" height="1" fill="#007200"/>
<rect x="375" y="255" width="1" height="36" fill="#007200"/>
<rect x="374" y="284" width="1" height="1" fill="#007200"/>
<rect x="376" y="262" width="1" height="1" fill="#007200"/>
<rect x="377" y="291" width="1" height="36" fill="#700a12"/>
<rect x="376" y="291" width="1" height="1" fill="#700a12"/>
<rect x="378" y="319" width="1" height="1" fill="#700a12"/>
<rect x="379" y="296" width="1" height="69" fill="#007200"/>
<rect x="378" y="319" width="1" height="1" fill="#007200"/>
<rect x="380" y="316" width="1" height="1" fill="#007200"/>
<rect x="382" y="316" width="1" height="66" fill="#700a12"/>
<rect x="381" y="316" width="1" height="1" fill="#700a12"/>
<rect x="383" y="368" width="1" height="1" fill="#700a12"/>
<rect x="384" y="302" width="1" height="67" fill="#007200"/>
<rect x="383" y="368" width="1" height="1" fill="#007200"/>
<rect x="385" y="315" width="1" height="1" fill="#007200"/>
<rect x="386" y="288" width="1" height="69" fill="#007200"/>
<rect x="385" y="315" width="1" height="1" fill="#007200"/>
<rect x="387" y="295" width="1" height="1" fill="#007200"/>
<rect x="388" y="264" width="1" height="32" fill="#007200"/>
<rect x="387" y="295" width="1" height="1" fill="#007200"/>
<rect x="389" y="270" width="1" height="1" fill="#007200"/>
<rect x="390" y="261" width="1" height="37" fill="#700a12"/>
<rect x="389" y="270" width="1" height="1" fill="#700a12"/>
<rect x="391" y="284" width="1" height="1" fill="#700a12"/>
<rect x="393" y="234" width="1" height="51" fill="#007200"/>
<rect x="392" y="284" width="1" height="1" fill="#007200"/>
<rect x="394" y="252" width="1" height="1" fill="#007200"/>
<rect x="395" y="252" width="1" height="57" fill="#700a12"/>
<rect x="394" y="252" width="1" height="1" fill="#700a12"/>
<rect x="396" y="297" width="1" height="1" fill="#700a12"/>
<rect x="397" y="275" width="1" height="38" fill="#007200"/>
<rect x="396" y="297" width="1" height="1" fill="#007200"/>
<rect x="398" y="283" width="1" height="1" fill="#007200"/>
<rect x="399" y="279" width="1" height="39" fill="#700a12"/>
<rect x="398" y="283" width="1" height="1" fill="#700a12"/>
<rect x="400" y="309" width="1" height="1" fill="#700a12"/>
<rect x="401" y="318" width="1" height="42" fill="#700a12"/>
<rect x="400" y="318" width="1" height="1" fill="#700a12"/>
<rect x="402" y="337" width="1" height="1" fill="#700a12"/>
<rect x="404" y="273" width="1" height="65" fill="#007200"/>
<rect x="403" y="337" width="1" height="1" fill="#007200"/>
<rect x="405" y="286" width="1" height="1" fill="#007200"/>
<rect x="406" y="265" width="1" height="37" fill="#700a12"/>
<rect x="405" y="286" width="1" height="1" fill="#700a12"/>
<rect x="407" y="294" width="1" height="1" fill="#700a12"/>
<rect x="408" y="281" width="1" height="41" fill="#700a12"/>
<rect x="407" y="294" width="1" height="1" fill="#700a12"/>
<rect x="409" y="313" width="1" height="1" fill="#700a12"/>
<rect x="410" y="289" width="1" height="39" fill="#007200"/>
<rect x="409" y="313" width="1" height="1" fill="#007200"/>
<rect x="411" y="297" width="1" height="1" fill="#007200"/>
<rect x="412" y="282" width="1" height="20" fill="#007200"/>
<rect x="411" y="297" width="1" height="1" fill="#007200"/>
<rect x="413" y="286" width="1" height="1" fill="#007200"/>
<rect x="415" y="265" width="1" height="25" fill="#700a12"/>
<rect x="414" y="286" width="1" height="1" fill="#700a12"/>
<rect x="416" y="287" width="1" height="1" fill="#700a12"/>
<rect x="417" y="263" width="1" height="29" fill="#007200"/>
<rect x="416" y="287" width="1" height="1" fill="#007200"/>
<rect x="418" y="269" width="1" height="1" fill="#007200"/>
<rect x="419" y="247" width="1" height="35" fill="#007200"/>
<rect x="418" y="269" width="1" height="1" fill="#007200"/>
<rect x="420" y="254" width="1" height="1" fill="#007200"/>
<rect x="421" y="241" width="1" height="17" fill="#700a12"/>
<rect x="420" y="254" width="1" height="1" fill="#700a12"/>
<rect x="422" y="255" width="1" height="1" fill="#700a12"/>
<rect x="423" y="231" width="1" height="31" fill="#007200"/>
<rect x="422" y="255" width="1" height="1" fill="#007200"/>
<rect x="424" y="237" width="1" height="1" fill="#007200"/>
<rect x="426" y="227" width="1" height="15" fill="#700a12"/>
<rect x="425" y="237" width="1" height="1" fill="#700a12"/>
<rect x="427" y="238" width="1" height="1" fill="#700a12"/>
<rect x="428" y="226" width="1" height="19" fill="#007200"/>
<rect x="427" y="238" width="1" height="1" fill="#007200"/>
<rect x="429" y="230" width="1" height="1" fill="#007200"/>
<rect x="430" y="221" width="1" height="11" fill="#007200"/>
<rect x="429" y="230" width="1" height="1" fill="#007200"/>
<rect x="431" y="223" width="1" height="1" fill="#007200"/>
<rect x="432" y="215" width="1" height="19" fill="#007200"/>
<rect x="431" y="223" width="1" height="1" fill="#007200"/>
<rect x="433" y="219" width="1" height="1" fill="#007200"/>
<rect x="434" y="216" width="1" height="28" fill="#007200"/>
<rect x="433" y="219" width="1" height="1" fill="#007200"/>
<rect x="435" y="218" width="1" height="1" fill="#007200"/>
<rect x="437" y="200" width="1" height="24" fill="#007200"/>
<rect x="436" y="218" width="1" height="1" fill="#007200"/>
<rect x="438" y="205" width="1" height="1" fill="#007200"/>
<rect x="439" y="202" width="1" height="29" fill="#700a12"/>
<rect x="438" y="205" width="1" height="1" fill="#700a12"/>
<rect x="440" y="224" width="1" height="1" fill="#700a12"/>
<rect x="441" y="211" width="1" height="30" fill="#700a12"/>
<rect x="440" y="224" width="1" height="1" fill="#700a12"/>
<rect x="442" y="234" width="1" height="1" fill="#700a12"/>
<rect x="443" y="222" width="1" height="37" fill="#700a12"/>
<rect x="442" y="234" width="1" height="1" fill="#700a12"/>
<rect x="444" y="258" width="1" height="1" fill="#700a12"/>
<rect x="445" y="258" width="1" height="21" fill="#700a12"/>
<rect x="444" y="258" width="1" height="1" fill="#700a12"/>
<rect x="446" y="274" width="1" height="1" fill="#700a12"/>
<rect x="448" y="256" width="1" height="27" fill="#007200"/>
<rect x="447" y="274" width="1" height="1" fill="#007200"/>
<rect x="449" y="261" width="1" height="1" fill="#007200"/>
<rect x="450" y="258" width="1" height="39" fill="#007200"/>
<rect x="449" y="261" width="1" height="1" fill="#007200"/>
<rect x="451" y="260" width="1" height="1" fill="#007200"/>
<rect x="452" y="259" width="1" height="25" fill="#700a12"/>
<rect x="451" y="260" width="1" height="1" fill="#700a12"/>
<rect x="453" y="278" width="1" height="1" fill="#700a12"/>
<rect x="454" y="270" width="1" height="30" fill="#007200"/>
<rect x="453" y="278" width="1" height="1" fill="#007200"/>
<rect x="455" y="277" width="1" height="1" fill="#007200"/>
<rect x="456" y="294" width="1" height="27" fill="#700a12"/>
<rect x="455" y="294" width="1" height="1" fill="#700a12"/>
<rect x="457" y="315" width="1" height="1" fill="#700a12"/>
<rect x="459" y="295" width="1" height="23" fill="#007200"/>
<rect x="458" y="315" width="1" height="1" fill="#007200"/>
<rect x="460" y="300" width="1" height="1" fill="#007200"/>
<rect x="461" y="294" width="1" height="36" fill="#700a12"/>
<rect x="460" y="300" width="1" height="1" fill="#700a12"/>
<rect x="462" y="322" width="1" height="1" fill="#700a12"/>
<rect x="463" y="293" width="1" height="36" fill="#007200"/>
<rect x="462" y="322" width="1" height="1" fill="#007200"/>
<rect x="464" y="300" width="1" height="1" fill="#007200"/>
<rect x="465" y="289" width="1" height="27" fill="#700a12"/>
<rect x="464" y="300" width="1" height="1" fill="#700a12"/>
<rect x="466" y="303" width="1" height="1" fill="#700a12"/>
<rect x="467" y="283" width="1" height="21" fill="#700a12"/>
<rect x="466" y="303" width="1" height="1" fill="#700a12"/>
<rect x="468" y="299" width="1" height="1" fill="#700a12"/>
<rect x="470" y="274" width="1" height="40" fill="#007200"/>
<rect x="469" y="299" width="1" height="1" fill="#007200"/>
<rect x="471" y="280" width="1" height="1" fill="#007200"/>
<rect x="472" y="257" width="1" height="24" fill="#700a12"/>
<rect x="471" y="280" width="1" height="1" fill="#700a12"/>
<rect x="473" y="275" width="1" height="1" fill="#700a12"/>
<rect x="474" y="273" width="1" height="18" fill="#007200"/>
<rect x="473" y="275" width="1" height="1" fill="#007200"/>
<rect x="475" y="274" width="1" height="1" fill="#007200"/>
<rect x="476" y="261" width="1" height="22" fill="#007200"/>
<rect x="475" y="274" width="1" height="1" fill="#007200"/>
<rect x="477" y="265" width="1" height="1" fill="#007200"/>
<rect x="478" y="258" width="1" height="44" fill="#007200"/>
<rect x="477" y="265" width="1" height="1" fill="#007200"/>
<rect x="479" y="264" width="1" height="1" fill="#007200"/>
<rect x="481" y="240" width="1" height="28" fill="#007200"/>
<rect x="480" y="264" width="1" height="1" fill="#007200"/>
<rect x="482" y="246" width="1" height="1" fill="#007200"/>
<rect x="483" y="224" width="1" height="16" fill="#007200"/>
<rect x="482" y="239" width="1" height="1" fill="#007200"/>
<rect x="484" y="227" width="1" height="1" fill="#007200"/>
<rect x="485" y="217" width="1" height="17" fill="#007200"/>
<rect x="484" y="227" width="1" height="1" fill="#007200"/>
<rect x="486" y="220" width="1" height="1" fill="#007200"/>
<rect x="487" y="213" width="1" height="24" fill="#700a12"/>
<rect x="486" y="220" width="1" height="1" fill="#700a12"/>
<rect x="488" y="231" width="1" height="1" fill="#700a12"/>
<rect x="489" y="224" width="1" height="18" fill="#700a12"/>
<rect x="488" y="231" width="1" height="1" fill="#700a12"/>
<rect x="490" y="237" width="1" height="1" fill="#700a12"/>
<rect x="492" y="207" width="1" height="35" fill="#007200"/>
<rect x="491" y="237" width="1" height="1" fill="#007200"/>
<rect x="493" y="214" width="1" height="1" fill="#007200"/>
<rect x="494" y="202" width="1" height="21" fill="#007200"/>
<rect x="493" y="214" width="1" height="1" fill="#007200"/>
<rect x="495" y="206" width="1" height="1" fill="#007200"/>
<rect x="496" y="204" width="1" height="17" fill="#700a12"/>
<rect x="495" y="206" width="1" height="1" fill="#700a12"/>
<rect x="497" y="217" width="1" height="1" fill="#700a12"/>
<rect x="498" y="214" width="1" height="31" fill="#700a12"/>
<rect x="497" y="217" width="1" height="1" fill="#700a12"/>
<rect x="499" y="238" width="1" height="1" fill="#700a12"/>
<rect x="500" y="224" width="1" height="21" fill="#007200"/>
<rect x="499" y="238" width="1" height="1" fill="#007200"/>
<rect x="501" y="230" width="1" height="1" fill="#007200"/>
<rect x="503" y="230" width="1" height="15" fill="#700a12"/>
<rect x="502" y="230" width="1" height="1" fill="#700a12"/>
<rect x="504" y="238" width="1" height="1" fill="#700a12"/>
<rect x="505" y="210" width="1" height="29" fill="#007200"/>
<rect x="504" y="238" width="1" height="1" fill="#007200"/>
<rect x="506" y="216" width="1" height="1" fill="#007200"/>
<rect x="507" y="214" width="1" height="26" fill="#700a12"/>
<rect x="506" y="216" width="1" height="1" fill="#700a12"/>
<rect x="508" y="234" width="1" height="1" fill="#700a12"/>
<rect x="509" y="217" width="1" height="21" fill="#007200"/>
<rect x="508" y="234" width="1" height="1" fill="#007200"/>
<rect x="510" y="221" width="1" height="1" fill="#007200"/>
<rect x="511" y="215" width="1" height="26" fill="#700a12"/>
<rect x="510" y="221" width="1" height="1" fill="#700a12"/>
<rect x="512" y="235" width="1" height="1" fill="#700a12"/>
<rect x="514" y="229" width="1" height="19" fill="#700a12"/>
<rect x="513" y="235" width="1" height="1" fill="#700a12"/>
<rect x="515" y="241" width="1" height="1" fill="#700a12"/>
<rect x="516" y="212" width="1" height="30" fill="#007200"/>
<rect x="515" y="241" width="1" height="1" fill="#007200"/>
<rect x="517" y="218" width="1" height="1" fill="#007200"/>
<rect x="518" y="203" width="1" height="19" fill="#007200"/>
<rect x="517" y="218" width="1" height="1" fill="#007200"/>
<rect x="519" y="206" width="1" height="1" fill="#007200"/>
<rect x="520" y="196" width="1" height="11" fill="#007200"/>
<rect x="519" y="206" width="1" height="1" fill="#007200"/>
<rect x="521" y="198" width="1" height="1" fill="#007200"/>
<rect x="522" y="190" width="1" height="15" fill="#007200"/>
<rect x="521" y="198" width="1" height="1" fill="#007200"/>
<rect x="523" y="193" width="1" height="1" fill="#007200"/>
<rect x="525" y="187" width="1" height="12" fill="#007200"/>
<rect x="524" y="193" width="1" height="1" fill="#007200"/>
<rect x="526" y="189" width="1" height="1" fill="#007200"/>
<rect x="527" y="185" width="1" height="12" fill="#700a12"/>
<rect x="526" y="189" width="1" height="1" fill="#700a12"/>
<rect x="528" y="194" width="1" height="1" fill="#700a12"/>
<rect x="529" y="177" width="1" height="24" fill="#007200"/>
<rect x="528" y="194" width="1" height="1" fill="#007200"/>
<rect x="530" y="182" width="1" height="1" fill="#007200"/>
<rect x="531" y="178" width="1" height="8" fill="#700a12"/>
<rect x="530" y="182" width="1" height="1" fill="#700a12"/>
<rect x="532" y="183" width="1" height="1" fill="#700a12"/>
<rect x="533" y="172" width="1" height="15" fill="#007200"/>
<rect x="532" y="183" width="1" height="1" fill="#007200"/>
<rect x="534" y="175" width="1" height="1" fill="#007200"/>
<rect x="536" y="169" width="1" height="13" fill="#007200"/>
<rect x="535" y="175" width="1" height="1" fill="#007200"/>
<rect x="537" y="172" width="1" height="1" fill="#007200"/>
<rect x="538" y="167" width="1" height="12" fill="#700a12"/>
<rect x="537" y="172" width="1" height="1" fill="#700a12"/>
<rect x="539" y="176" width="1" height="1" fill="#700a12"/>
<rect x="540" y="170" width="1" height="30" fill="#700a12"/>
<rect x="539" y="176" width="1" height="1" fill="#700a12"/>
<rect x="541" y="193" width="1" height="1" fill="#700a12"/>
<rect x="542" y="181" width="1" height="14" fill="#700a12"/>
<rect x="541" y="193" width="1" height="1" fill="#700a12"/>
<rect x="543" y="194" width="1" height="1" fill="#700a12"/>
<rect x="544" y="175" width="1" height="22" fill="#007200"/>
<rect x="543" y="194" width="1" height="1" fill="#007200"/>
<rect x="545" y="179" width="1" height="1" fill="#007200"/>
<rect x="547" y="169" width="1" height="32" fill="#700a12"/>
<rect x="546" y="179" width="1" height="1" fill="#700a12"/>
<rect x="548" y="187" width="1" height="1" fill="#700a12"/>
<rect x="549" y="158" width="1" height="30" fill="#007200"/>
<rect x="548" y="187" width="1" height="1" fill="#007200"/>
<rect x="550" y="163" width="1" height="1" fill="#007200"/>
<rect x="551" y="154" width="1" height="10" fill="#007200"/>
<rect x="550" y="163" width="1" height="1" fill="#007200"/>
<rect x="552" y="160" width="1" height="1" fill="#007200"/>
<rect x="553" y="160" width="1" height="15" fill="#700a12"/>
<rect x="552" y="160" width="1" height="1" fill="#700a12"/>
<rect x="554" y="171" width="1" height="1" fill="#700a12"/>
<rect x="555" y="160" width="1" height="29" fill="#700a12"/>
<rect x="554" y="171" width="1" height="1" fill="#700a12"/>
<rect x="556" y="182" width="1" height="1" fill="#700a12"/>
<rect x="558" y="164" width="1" height="30" fill="#700a12"/>
<rect x="557" y="182" width="1" height="1" fill="#700a12"/>
<rect x="559" y="187" width="1" height="1" fill="#700a12"/>
<rect x="560" y="169" width="1" height="21" fill="#007200"/>
<rect x="559" y="187" width="1" height="1" fill="#007200"/>
<rect x="561" y="175" width="1" height="1" fill="#007200"/>
<rect x="562" y="175" width="1" height="29" fill="#700a12"/>
<rect x="561" y="175" width="1" height="1" fill="#700a12"/>
<rect x="563" y="194" width="1" height="1" fill="#700a12"/>
<rect x="564" y="157" width="1" height="38" fill="#007200"/>
<rect x="563" y="194" width="1" height="1" fill="#007200"/>
<rect x="565" y="163" width="1" height="1" fill="#007200"/>
<rect x="566" y="147" width="1" height="17" fill="#007200"/>
<rect x="565" y="163" width="1" height="1" fill="#007200"/>
<rect x="567" y="149" width="1" height="1" fill="#007200"/>
<rect x="569" y="138" width="1" height="12" fill="#007200"/>
<rect x="568" y="149" width="1" height="1" fill="#007200"/>
<rect x="570" y="140" width="1" height="1" fill="#007200"/>
<rect x="571" y="131" width="1" height="16" fill="#007200"/>
<rect x="570" y="140" width="1" height="1" fill="#007200"/>
<rect x="572" y="134" width="1" height="1" fill="#007200"/>
<rect x="573" y="125" width="1" height="19" fill="#700a12"/>
<rect x="572" y="134" width="1" height="1" fill="#700a12"/>
<rect x="574" y="139" width="1" height="1" fill="#700a12"/>
<rect x="575" y="123" width="1" height="22" fill="#700a12"/>
<rect x="574" y="139" width="1" height="1" fill="#700a12"/>
<rect x="576" y="140" width="1" height="1" fill="#700a12"/>
<rect x="577" y="137" width="1" height="30" fill="#700a12"/>
<rect x="576" y="140" width="1" height="1" fill="#700a12"/>
<rect x="578" y="160" width="1" height="1" fill="#700a12"/>
<rect x="580" y="152" width="1" height="26" fill="#700a12"/>
<rect x="579" y="160" width="1" height="1" fill="#700a12"/>
<rect x="581" y="172" width="1" height="1" fill="#700a12"/>
<rect x="582" y="152" width="1" height="39" fill="#700a12"/>
<rect x="581" y="172" width="1" height="1" fill="#700a12"/>
<rect x="583" y="182" width="1" height="1" fill="#700a12"/>
<rect x="584" y="169" width="1" height="33" fill="#007200"/>
<rect x="583" y="182" width="1" height="1" fill="#007200"/>
<rect x="585" y="176" width="1" height="1" fill="#007200"/>
<rect x="586" y="160" width="1" height="29" fill="#700a12"/>
<rect x="585" y="176" width="1" height="1" fill="#700a12"/>
<rect x="587" y="177" width="1" height="1" fill="#700a12"/>
<rect x="588" y="152" width="1" height="18" fill="#007200"/>
<rect x="587" y="169" width="1" height="1" fill="#007200"/>
<rect x="589" y="156" width="1" height="1" fill="#007200"/>
<rect x="591" y="145" width="1" height="18" fill="#007200"/>
<rect x="590" y="156" width="1" height="1" fill="#007200"/>
<rect x="592" y="146" width="1" height="1" fill="#007200"/>
<rect x="593" y="133" width="1" height="14" fill="#007200"/>
<rect x="592" y="146" width="1" height="1" fill="#007200"/>
<rect x="594" y="136" width="1" height="1" fill="#007200"/>
<rect x="595" y="126" width="1" height="15" fill="#007200"/>
<rect x="594" y="136" width="1" height="1" fill="#007200"/>
<rect x="596" y="129" width="1" height="1" fill="#007200"/>
<rect x="597" y="120" width="1" height="13" fill="#007200"/>
<rect x="596" y="129" width="1" height="1" fill="#007200"/>
<rect x="598" y="123" width="1" height="1" fill="#007200"/>
<rect x="599" y="115" width="1" height="12" fill="#007200"/>
<rect x="598" y="123" width="1" height="1" fill="#007200"/>
<rect x="600" y="115" width="1" height="1" fill="#007200"/>
<rect x="602" y="115" width="1" height="19" fill="#700a12"/>
<rect x="601" y="115" width="1" height="1" fill="#700a12"/>
<rect x="603" y="123" width="1" height="1" fill="#700a12"/>
</g>
<g clip-path="url(#cm)">
<g shape-rendering="crispEdges">
<rect x="175" y="121" width="522" height="1" fill="#ff0000"/>
<rect x="540" y="87" width="185" height="2" fill="#ff0000"/>
<rect x="175" y="245" width="512" height="2" fill="#00009c"/>
<rect x="514" y="150" width="160" height="2" fill="#00009c"/>
<rect x="481" y="168" width="212" height="1" fill="#00009c"/>
</g>
<line x1="423.5" y1="268" x2="632.5" y2="62.5" stroke="#ff0000" stroke-width="2.2"/>
<line x1="423.5" y1="371" x2="712.5" y2="70.5" stroke="#00009c" stroke-width="2.2"/>
<line x1="533.5" y1="199.7" x2="690.5" y2="232.2" stroke="#00009c" stroke-width="2.2"/>
</g>
<g clip-path="url(#cr)">
<polygon points="9.8,539.5 14.4,546.9 15.5,539.5" fill="#a9cf8f"/>
<polygon points="41.7,539.5 43.5,553.1 45.2,546.2 47.2,548.1 48.6,539.5" fill="#a9cf8f"/>
<polygon points="54.6,539.5 56.5,545.6 57.4,539.5" fill="#a9cf8f"/>
<polygon points="223.4,539.5 223.5,541.0 223.8,539.5" fill="#a9cf8f"/>
<polygon points="365.3,539.5 366.0,544.0 368.8,545.6 371.5,549.8 375.2,541.0 377.2,544.8 379.4,541.2 382.2,546.9 384.0,539.5" fill="#a9cf8f"/>
<path d="M14.4 546.9L16.2 535.0M16.2 535.0L18.8 531.0M21.0 531.5L23.1 523.1M26.9 525.6L30.0 521.9M32.5 533.1L34.4 525.6M34.4 525.6L36.2 525.0M43.5 553.1L45.2 546.2M47.2 548.1L49.4 535.0M56.5 545.6L58.5 531.9M60.6 535.6L63.8 528.1M67.5 530.0L69.4 523.1M76.2 535.0L80.0 525.0M89.8 538.8L92.5 528.1M92.5 528.1L96.2 524.4M96.2 524.4L98.8 519.4M98.8 519.4L100.0 519.0M100.0 519.0L102.5 513.8M102.5 513.8L105.0 512.5M105.0 512.5L107.8 509.4M107.8 509.4L109.4 503.8M111.5 511.9L115.0 507.5M115.0 507.5L118.8 504.4M129.8 527.2L132.8 506.9M132.8 506.9L137.2 498.8M140.0 500.0L143.8 492.5M146.5 500.0L148.8 493.8M148.8 493.8L151.2 491.9M155.6 506.0L157.8 498.1M157.8 498.1L160.0 497.5M164.4 514.0L168.1 504.8M173.8 510.0L175.6 503.8M179.0 506.9L181.9 500.0M181.9 500.0L185.0 498.8M185.0 498.8L186.5 494.4M196.0 529.4L198.1 524.4M198.1 524.4L199.4 516.2M201.5 518.8L203.8 506.9M203.8 506.9L205.6 506.0M208.1 506.2L212.5 500.0M212.5 500.0L214.8 499.8M223.5 541.0L225.6 530.0M228.5 533.8L230.6 530.0M232.8 530.6L236.2 517.5M241.2 531.9L243.5 520.6M245.6 522.5L247.5 516.9M247.5 516.9L250.0 515.0M250.0 515.0L252.5 511.9M258.8 523.1L261.9 512.5M261.9 512.5L264.4 509.8M264.4 509.8L267.2 506.9M269.4 512.8L275.0 503.8M278.1 505.6L280.6 501.9M283.5 508.5L286.0 508.1M288.1 518.1L291.2 508.8M291.2 508.8L294.4 508.1M294.4 508.1L296.5 506.0M298.8 514.8L300.0 512.8M300.0 512.8L302.2 501.9M302.2 501.9L305.0 499.8M307.8 501.0L312.5 491.9M322.5 526.9L324.4 513.1M324.4 513.1L328.1 507.5M331.9 515.0L335.6 506.0M349.4 531.9L351.5 530.6M353.5 532.5L355.2 510.6M360.6 530.0L362.5 521.9M371.5 549.8L375.2 541.0M377.2 544.8L379.4 541.2M382.2 546.9L385.0 535.0M385.0 535.0L388.1 523.1M390.2 523.8L393.1 515.0M401.5 533.8L404.4 518.1M408.5 526.0L411.2 518.1M411.2 518.1L413.1 517.2M415.6 518.1L419.4 510.0M419.4 510.0L421.2 509.4M421.2 509.4L423.1 505.0M426.2 508.1L428.8 504.4M428.8 504.4L432.5 501.9M435.0 502.2L437.2 496.9M448.1 528.1L450.6 521.9M456.9 535.6L459.4 533.1M461.5 538.1L463.8 527.5M463.8 527.5L465.6 524.4M465.6 524.4L467.5 523.8M467.5 523.8L470.2 516.0M473.1 517.2L476.5 515.0M476.5 515.0L479.4 505.6M479.4 505.6L485.0 492.8M489.8 501.9L494.0 491.9M498.5 516.9L500.0 510.6M500.0 510.6L501.2 510.0M503.5 515.0L505.6 506.9M507.5 511.9L509.4 509.0M514.4 520.6L516.2 507.5M516.2 507.5L518.8 505.6M518.8 505.6L521.9 501.9M521.9 501.9L525.0 499.8M527.2 504.0L529.4 498.1M531.2 499.8L535.6 495.6M540.6 512.2L542.5 511.9M542.5 511.9L545.0 506.5M547.2 507.2L549.4 496.2M549.4 496.2L551.2 496.0M558.5 518.1L560.6 511.9M562.5 520.0L565.0 502.5M565.0 502.5L566.9 499.0M566.9 499.0L571.5 494.4M582.8 529.0L585.0 520.6M585.0 520.6L586.9 518.8M586.9 518.8L588.8 510.0M588.8 510.0L593.1 502.5M593.1 502.5L596.2 496.2M596.2 496.2L598.8 492.9M598.8 492.9L599.6 492.3" stroke="#1414f0" stroke-width="2.4" fill="none" stroke-linecap="round" stroke-linejoin="round"/>
<path d="M1.9 516.2L3.8 526.9M3.8 526.9L9.4 538.8M9.4 538.8L14.4 546.9M18.8 531.0L21.0 531.5M23.1 523.1L26.9 525.6M30.0 521.9L32.5 533.1M36.2 525.0L38.8 532.5M38.8 532.5L41.2 535.6M41.2 535.6L43.5 553.1M45.2 546.2L47.2 548.1M49.4 535.0L51.9 535.0M51.9 535.0L54.4 538.8M54.4 538.8L56.5 545.6M58.5 531.9L60.6 535.6M63.8 528.1L67.5 530.0M69.4 523.1L71.9 523.8M71.9 523.8L76.2 535.0M80.0 525.0L81.9 525.6M81.9 525.6L86.2 534.4M86.2 534.4L89.8 538.8M109.4 503.8L111.5 511.9M118.8 504.4L120.6 505.6M120.6 505.6L124.4 517.5M124.4 517.5L126.2 519.4M126.2 519.4L129.8 527.2M137.2 498.8L140.0 500.0M143.8 492.5L144.8 493.1M144.8 493.1L146.5 500.0M151.2 491.9L152.8 493.8M152.8 493.8L155.6 506.0M160.0 497.5L162.5 499.4M162.5 499.4L164.4 514.0M168.1 504.8L170.6 509.4M170.6 509.4L173.8 510.0M175.6 503.8L179.0 506.9M186.5 494.4L190.0 513.8M190.0 513.8L196.0 529.4M199.4 516.2L200.0 516.2M200.0 516.2L201.5 518.8M205.6 506.0L208.1 506.2M214.8 499.8L217.5 506.2M217.5 506.2L219.8 510.0M219.8 510.0L221.5 520.0M221.5 520.0L223.5 541.0M225.6 530.0L228.5 533.8M230.6 530.0L232.8 530.6M236.2 517.5L241.2 531.9M243.5 520.6L245.6 522.5M252.5 511.9L256.9 522.5M256.9 522.5L258.8 523.1M267.2 506.9L269.4 512.8M275.0 503.8L278.1 505.6M280.6 501.9L283.5 508.5M286.0 508.1L288.1 518.1M296.5 506.0L298.8 514.8M305.0 499.8L307.8 501.0M312.5 491.9L314.0 492.5M314.0 492.5L316.9 503.8M316.9 503.8L318.8 508.8M318.8 508.8L322.5 526.9M328.1 507.5L330.0 508.1M330.0 508.1L331.9 515.0M335.6 506.0L340.6 515.0M340.6 515.0L343.1 517.2M343.1 517.2L349.4 531.9M351.5 530.6L353.5 532.5M355.2 510.6L360.6 530.0M362.5 521.9L366.0 544.0M366.0 544.0L368.8 545.6M368.8 545.6L371.5 549.8M375.2 541.0L377.2 544.8M379.4 541.2L382.2 546.9M388.1 523.1L390.2 523.8M393.1 515.0L395.6 523.1M395.6 523.1L398.1 524.0M398.1 524.0L400.0 531.2M400.0 531.2L401.5 533.8M404.4 518.1L406.2 518.8M406.2 518.8L408.5 526.0M413.1 517.2L415.6 518.1M423.1 505.0L426.2 508.1M432.5 501.9L435.0 502.2M437.2 496.9L439.8 508.1M439.8 508.1L441.9 513.8M441.9 513.8L445.6 528.1M445.6 528.1L448.1 528.1M450.6 521.9L452.5 528.1M452.5 528.1L454.4 530.0M454.4 530.0L456.9 535.6M459.4 533.1L461.5 538.1M470.2 516.0L473.1 517.2M485.0 492.8L486.2 493.5M486.2 493.5L488.1 500.6M488.1 500.6L489.8 501.9M494.0 491.9L495.6 493.1M495.6 493.1L497.2 501.2M497.2 501.2L498.5 516.9M501.2 510.0L503.5 515.0M505.6 506.9L507.5 511.9M509.4 509.0L514.4 520.6M525.0 499.8L527.2 504.0M529.4 498.1L531.2 499.8M535.6 495.6L538.1 496.0M538.1 496.0L540.6 512.2M545.0 506.5L547.2 507.2M551.2 496.0L553.8 506.2M553.8 506.2L558.5 518.1M560.6 511.9L562.5 520.0M571.5 494.4L573.8 498.8M573.8 498.8L575.6 500.6M575.6 500.6L578.1 510.6M578.1 510.6L581.0 517.5M581.0 517.5L582.8 529.0M599.6 492.3L602.5 500.5" stroke="#dc143c" stroke-width="2.4" fill="none" stroke-linecap="round" stroke-linejoin="round"/>
<rect x="494" y="521" width="145" height="2" fill="#00009c" shape-rendering="crispEdges"/>
</g>
<g shape-rendering="crispEdges">
<rect x="6" y="8" width="1" height="11" fill="#b82020"/>
<rect x="3" y="10" width="7" height="7" fill="#f27a7a" stroke="none"/>
<rect x="3" y="10" width="7" height="1" fill="#c02424"/><rect x="3" y="16" width="7" height="1" fill="#c02424"/><rect x="3" y="10" width="1" height="7" fill="#c02424"/><rect x="9" y="10" width="1" height="7" fill="#c02424"/>
<rect x="14" y="3" width="1" height="16" fill="#0f900f"/>
<rect x="11" y="6" width="7" height="10" fill="#6eea6e"/>
<rect x="11" y="6" width="7" height="1" fill="#129412"/><rect x="11" y="15" width="7" height="1" fill="#129412"/><rect x="11" y="6" width="1" height="10" fill="#129412"/><rect x="17" y="6" width="1" height="10" fill="#129412"/>
</g>
<text x="23.7" y="14.5" font-size="11" font-weight="bold" fill="#000" text-anchor="start" textLength="98" lengthAdjust="spacingAndGlyphs">PXI - CAC 40 INDEX</text>
<text x="134.2" y="14.5" font-size="11" font-weight="bold" fill="#000" text-anchor="start" textLength="88.3" lengthAdjust="spacingAndGlyphs">4 069,47 (+0,25%)</text>
<text x="235.5" y="14.5" font-size="11" font-weight="bold" fill="#000" text-anchor="start" textLength="34" lengthAdjust="spacingAndGlyphs">Hebdo</text>
<text x="276.2" y="14.5" font-size="11" font-weight="bold" fill="#000" text-anchor="start" textLength="65.5" lengthAdjust="spacingAndGlyphs">23 août 2013</text>
<text x="797" y="14.5" font-size="11" font-weight="bold" fill="#000" text-anchor="end" textLength="130" lengthAdjust="spacingAndGlyphs">www.ProRealTime.com</text>
<text x="2.7" y="462.5" font-size="11" fill="#435418" text-anchor="start" textLength="93.3" lengthAdjust="spacingAndGlyphs">© ProRealTime.com</text>
<text x="2.7" y="479.5" font-size="11" fill="#dc143c" text-anchor="start" textLength="38.5" lengthAdjust="spacingAndGlyphs">RSI (10)</text>
<text x="754.5" y="458.3" font-size="11" fill="#000" text-anchor="start" textLength="26" lengthAdjust="spacingAndGlyphs">2 400</text>
<text x="754.5" y="408.1" font-size="11" fill="#000" text-anchor="start" textLength="26" lengthAdjust="spacingAndGlyphs">2 600</text>
<text x="754.5" y="361.7" font-size="11" fill="#000" text-anchor="start" textLength="26" lengthAdjust="spacingAndGlyphs">2 800</text>
<text x="754.5" y="319.2" font-size="12" font-weight="bold" fill="#000" text-anchor="start" textLength="29.5" lengthAdjust="spacingAndGlyphs">3 000</text>
<text x="754.5" y="277.9" font-size="11" fill="#000" text-anchor="start" textLength="26" lengthAdjust="spacingAndGlyphs">3 200</text>
<text x="754.5" y="239.9" font-size="11" fill="#000" text-anchor="start" textLength="26" lengthAdjust="spacingAndGlyphs">3 400</text>
<text x="754.5" y="204.1" font-size="11" fill="#000" text-anchor="start" textLength="26" lengthAdjust="spacingAndGlyphs">3 600</text>
<text x="754.5" y="170.2" font-size="11" fill="#000" text-anchor="start" textLength="26" lengthAdjust="spacingAndGlyphs">3 800</text>
<text x="754.5" y="138.8" font-size="12" font-weight="bold" fill="#000" text-anchor="start" textLength="29.5" lengthAdjust="spacingAndGlyphs">4 000</text>
<text x="754.5" y="107.4" font-size="11" fill="#000" text-anchor="start" textLength="26" lengthAdjust="spacingAndGlyphs">4 200</text>
<text x="754.5" y="78.3" font-size="11" fill="#000" text-anchor="start" textLength="26" lengthAdjust="spacingAndGlyphs">4 400</text>
<text x="754.5" y="50.4" font-size="11" fill="#000" text-anchor="start" textLength="26" lengthAdjust="spacingAndGlyphs">4 600</text>
<text x="754.5" y="555.0" font-size="11" fill="#000" text-anchor="start" textLength="11.5" lengthAdjust="spacingAndGlyphs">20</text>
<text x="754.5" y="532.0" font-size="11" fill="#000" text-anchor="start" textLength="11.5" lengthAdjust="spacingAndGlyphs">40</text>
<text x="754.5" y="509.0" font-size="11" fill="#000" text-anchor="start" textLength="11.5" lengthAdjust="spacingAndGlyphs">60</text>
<text x="754.5" y="486.0" font-size="11" fill="#000" text-anchor="start" textLength="11.5" lengthAdjust="spacingAndGlyphs">80</text>
<text x="754.5" y="578.9" font-size="12" font-weight="bold" fill="#000" text-anchor="start">0</text>
<text x="59.3" y="596" font-size="11" fill="#000" text-anchor="start" textLength="24" lengthAdjust="spacingAndGlyphs">2009</text>
<text x="175" y="596" font-size="11" fill="#000" text-anchor="start" textLength="24" lengthAdjust="spacingAndGlyphs">2010</text>
<text x="288" y="596" font-size="11" fill="#000" text-anchor="start" textLength="24" lengthAdjust="spacingAndGlyphs">2011</text>
<text x="402.6" y="596" font-size="11" fill="#000" text-anchor="start" textLength="24" lengthAdjust="spacingAndGlyphs">2012</text>
<text x="519.5" y="596" font-size="11" fill="#000" text-anchor="start" textLength="24" lengthAdjust="spacingAndGlyphs">2013</text>
<text x="634.3" y="596" font-size="11" fill="#000" text-anchor="start" textLength="24" lengthAdjust="spacingAndGlyphs">2014</text>
<g clip-path="url(#cm)">
<text x="737.2" y="77" font-size="12" font-weight="bold" fill="#000" text-anchor="start">43</text>
<text x="687.5" y="145" font-size="12" font-weight="bold" fill="#000" text-anchor="start" textLength="27" lengthAdjust="spacingAndGlyphs">3880</text>
<text x="713.2" y="115.3" font-size="10" font-weight="bold" fill="#000" text-anchor="start" textLength="23" lengthAdjust="spacingAndGlyphs">4080</text>
<text x="711.2" y="167.2" font-size="10" font-weight="bold" fill="#000" text-anchor="start" textLength="23.3" lengthAdjust="spacingAndGlyphs">3790</text>
<text x="717.5" y="239.3" font-size="12" font-weight="bold" fill="#000" text-anchor="start" textLength="27" lengthAdjust="spacingAndGlyphs">3340</text>
</g>
<text x="629.5" y="510" font-size="10" font-weight="bold" fill="#000" text-anchor="start" textLength="11" lengthAdjust="spacingAndGlyphs">46</text>
<g shape-rendering="crispEdges">
<rect x="752" y="115" width="45" height="16" fill="#8c9ba5"/>
<rect x="753" y="116" width="43" height="14" fill="url(#yl)"/>
<rect x="752" y="492" width="36" height="16" fill="#8c9ba5"/>
<rect x="753" y="493" width="34" height="14" fill="#f5f5e2"/>
</g>
<text x="754.3" y="127.3" font-size="11" fill="#000" text-anchor="start" textLength="41" lengthAdjust="spacingAndGlyphs">4 069,47</text>
<text x="753.8" y="504.3" font-size="11" fill="#dc143c" text-anchor="start" textLength="32.5" lengthAdjust="spacingAndGlyphs">64,364</text>
</svg></body></html>
